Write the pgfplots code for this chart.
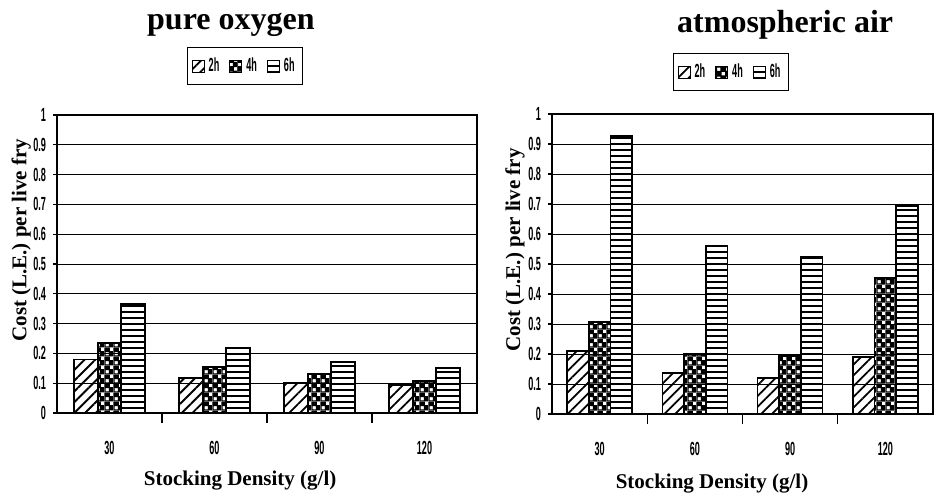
\documentclass[border=0pt]{standalone}
\usepackage{fontspec}
\setmainfont{Liberation Serif}
\newfontfamily\narrow[FakeStretch=0.48]{Liberation Sans}
\usepackage{pgfplots}
\pgfplotsset{compat=1.18}
\usetikzlibrary{patterns,patterns.meta}
\tikzdeclarepattern{
  name=chk,
  type=uncolored,
  bounding box={(0pt,0pt) and (4.4pt,4.4pt)},
  tile size={(4.4pt,4.4pt)},
  code={
    \fill[even odd rule] (0pt,0pt) rectangle (4.4pt,4.4pt)
      (0.3pt,0.3pt) rectangle (2.0pt,2.0pt)
      (2.5pt,2.5pt) rectangle (4.2pt,4.2pt);
  }
}
\pgfplotsset{
  panel/.style={
    scale only axis,
    ybar=0pt,
    ymin=0, ymax=1,
    ytick={0,0.1,0.2,0.3,0.4,0.5,0.6,0.7,0.8,0.9,1},
    yticklabels={0,0.1,0.2,0.3,0.4,0.5,0.6,0.7,0.8,0.9,1},
    xmin=-0.5, xmax=3.5,
    xtick={0,1,2,3},
    xticklabels={30,60,90,120},
    minor xtick={0.5,1.5,2.5},
    major x tick style={draw=none},
    minor x tick style={black, line width=0.6pt},
    minor tick length=5pt,
    major tick length=2pt,
    tick align=outside,
    tick pos=left,
    ytick style={black, line width=0.6pt},
    ymajorgrids,
    grid style={black, line width=0.5pt},
    axis line style={line width=0.8pt},
    tick label style={font=\narrow\bfseries\fontsize{9.5}{9.5}\selectfont},
    /pgf/number format/assume math mode=true,
    xticklabel style={yshift=-8.5pt},
    label style={font=\bfseries\fontsize{10.5}{11}\selectfont},
    title style={font=\bfseries\fontsize{16}{16}\selectfont, anchor=center},
    legend columns=3,
    legend style={draw=black, line width=0.6pt, anchor=center,
      font=\narrow\bfseries\fontsize{9.5}{9.5}\selectfont,
      inner xsep=2pt, inner ysep=3pt,
      /tikz/every even column/.append style={column sep=3pt}},
    legend image code/.code={\draw[#1, line width=0.5pt] (0pt,-3pt) rectangle (6pt,3pt);},
  },
  h2/.style={draw=black, line width=0.8pt, pattern={Lines[angle=45,distance=3.8pt,line width=0.9pt]}},
  h4/.style={draw=black, line width=0.8pt, pattern=chk},
  h6/.style={draw=black, line width=0.8pt, pattern={Lines[angle=0,distance=3pt,line width=0.7pt]}},
}
\begin{document}
\begin{tikzpicture}
\useasboundingbox (0pt,0pt) rectangle (469.5pt,-249pt);
% left panel
\begin{axis}[panel,
  at={(28.5pt,-206.5pt)}, anchor=south west,
  width=210pt, height=149pt,
  bar width=11.75pt,
  title={pure oxygen},
  title style={at={(0.414,1.262)}},
  ylabel={Cost (L.E.) per live fry},
  ylabel style={at={(axis description cs:-0.085,0.58)}, anchor=center},
  xlabel={Stocking Density (g/l)},
  xlabel style={at={(axis description cs:0.436,-0.225)}, anchor=center},
  legend style={at={(0.448,1.164)}},
]
\addplot[h2] coordinates {(0,0.18) (1,0.117) (2,0.100) (3,0.094)};
\addplot[h4] coordinates {(0,0.235) (1,0.154) (2,0.130) (3,0.107)};
\addplot[h6] coordinates {(0,0.366) (1,0.218) (2,0.171) (3,0.151)};
\legend{2h,4h,6h}
\end{axis}
% right panel
\begin{axis}[panel,
  at={(276pt,-207pt)}, anchor=south west,
  width=190.5pt, height=150pt,
  bar width=10.85pt,
  title={atmospheric air},
  title style={at={(0.612,1.257)}},
  ylabel={Cost (L.E.) per live fry},
  ylabel style={at={(axis description cs:-0.097,0.547)}, anchor=center},
  xlabel={Stocking Density (g/l)},
  xlabel style={at={(axis description cs:0.42,-0.233)}, anchor=center},
  legend style={at={(0.47,1.14)}},
]
\addplot[h2] coordinates {(0,0.21) (1,0.137) (2,0.120) (3,0.190)};
\addplot[h4] coordinates {(0,0.307) (1,0.200) (2,0.193) (3,0.453)};
\addplot[h6] coordinates {(0,0.927) (1,0.560) (2,0.523) (3,0.693)};
\legend{2h,4h,6h}
\end{axis}
\end{tikzpicture}
\end{document}
